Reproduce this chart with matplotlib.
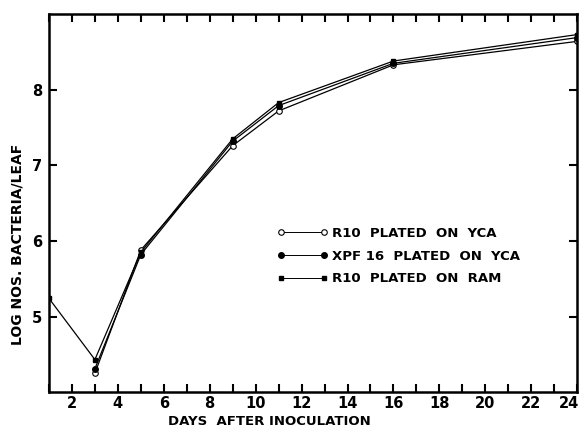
import matplotlib
matplotlib.use("Agg")
import matplotlib.pyplot as plt
import matplotlib.transforms as mtransforms
import numpy as np
from matplotlib.ticker import MultipleLocator

days = [1, 3, 5, 9, 11, 16, 24]
r10_yca = [np.nan, 4.25, 5.88, 7.26, 7.72, 8.33, 8.64]
xpf16_yca = [np.nan, 4.31, 5.82, 7.32, 7.79, 8.35, 8.69]
r10_ram = [5.24, 4.43, 5.85, 7.35, 7.83, 8.38, 8.73]
labels = ["R10  PLATED  ON  YCA", "XPF 16  PLATED  ON  YCA", "R10  PLATED  ON  RAM"]
xticks = [2, 4, 6, 8, 10, 12, 14, 16, 18, 20, 22, 24]
yticks = [5, 6, 7, 8]

plt.rcParams['font.family'] = ['DejaVu Sans']
fig = plt.figure(figsize=(5.83, 4.29), dpi=100)
ax = fig.add_axes([0.084, 0.086, 0.906, 0.881])

h1, = ax.plot(days, r10_yca, color='black', lw=0.9, marker='o', ms=4,
              mfc='white', mec='black', mew=0.8)
h2, = ax.plot(days, xpf16_yca, color='black', lw=0.9, marker='o', ms=4,
              mfc='black', mec='black')
h3, = ax.plot(days, r10_ram, color='black', lw=0.9, marker='s', ms=3.5,
              mfc='black', mec='black')

ax.set_xlim(1, 24)
ax.set_ylim(4, 9)
ax.set_xticks(xticks)
ax.xaxis.set_minor_locator(MultipleLocator(1))
ax.set_yticks(yticks)
ax.tick_params(axis='both', which='both', direction='in', top=True, right=True,
               width=1.5, length=6, labelsize=10.5)
ax.tick_params(axis='x', which='both', pad=3)
ax.tick_params(axis='y', which='both', labelright=False, pad=5)
for lab in ax.get_xticklabels() + ax.get_yticklabels():
    lab.set_fontweight('bold')
for sp in ax.spines.values():
    sp.set_linewidth(1.8)

# keep the last x tick label ("24") inside the figure as in the reference
last = ax.get_xticklabels()[-1]
last.set_transform(last.get_transform() +
                   mtransforms.ScaledTranslation(-6 / 72, 0, fig.dpi_scale_trans))

ax.set_xlabel("DAYS  AFTER INOCULATION", fontsize=9.5, fontweight='bold')
ax.xaxis.set_label_coords(0.418, -0.06)
ax.set_ylabel("LOG NOS. BACTERIA/LEAF", fontsize=10, fontweight='bold')
ax.yaxis.set_label_coords(-0.047, 0.39)

leg = ax.legend([h1, h2, h3], labels, loc='center left', bbox_to_anchor=(0.431, 0.36),
                frameon=False, numpoints=2, handlelength=3.9, handletextpad=0.3,
                labelspacing=0.75, borderpad=0, borderaxespad=0,
                prop={'weight': 'bold', 'size': 9.5})
for line in leg.get_lines():
    line.set_linewidth(0.7)

fig.savefig("out.png", dpi=100)
